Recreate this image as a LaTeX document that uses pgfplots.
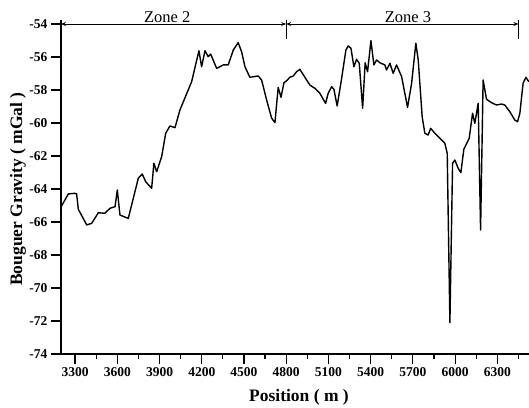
\documentclass[border=0pt]{standalone}
\usepackage{fontspec}
\setmainfont{Liberation Serif}
\usepackage{pgfplots}
\pgfplotsset{compat=1.18}
\usetikzlibrary{arrows.meta}

\pgfplotstableread{
x y
3200 -65.09
3252 -64.30
3299 -64.26
3311 -64.30
3323 -65.23
3383 -66.18
3418 -66.08
3465 -65.44
3512 -65.47
3548 -65.17
3584 -65.07
3600 -64.06
3619 -65.58
3678 -65.78
3749 -63.35
3777 -63.09
3802 -63.56
3844 -63.96
3860 -62.44
3880 -62.95
3915 -62.04
3944 -60.62
3974 -60.18
4010 -60.28
4045 -59.21
4128 -57.50
4180 -55.62
4199 -56.59
4223 -55.62
4246 -55.98
4263 -55.82
4306 -56.69
4353 -56.48
4388 -56.48
4424 -55.58
4459 -55.13
4483 -55.68
4507 -56.59
4542 -57.23
4601 -57.15
4625 -57.39
4661 -58.61
4696 -59.70
4720 -59.98
4743 -57.84
4763 -58.44
4784 -57.56
4803 -57.44
4826 -57.23
4850 -57.15
4874 -56.89
4897 -56.75
4933 -57.23
4968 -57.70
5004 -57.90
5039 -58.20
5080 -58.81
5098 -58.20
5123 -57.80
5139 -57.96
5162 -58.97
5194 -57.29
5224 -55.58
5240 -55.33
5260 -55.47
5281 -56.59
5300 -56.14
5319 -56.38
5343 -59.11
5361 -56.35
5378 -56.89
5402 -55.01
5423 -56.48
5442 -56.18
5466 -56.35
5501 -56.48
5513 -56.79
5537 -56.38
5560 -56.99
5584 -56.48
5620 -57.19
5662 -59.05
5691 -57.59
5721 -55.17
5738 -56.18
5766 -59.62
5785 -60.62
5809 -60.73
5826 -60.32
5856 -60.62
5892 -60.93
5927 -61.23
5944 -61.84
5963 -72.10
5982 -62.44
5998 -62.24
6022 -62.75
6041 -63.01
6062 -61.59
6100 -60.93
6124 -59.41
6140 -60.02
6164 -58.81
6181 -66.48
6199 -57.39
6223 -58.56
6259 -58.77
6294 -58.91
6330 -58.85
6353 -58.91
6389 -59.32
6424 -59.82
6444 -59.92
6460 -59.41
6483 -57.59
6503 -57.23
6524 -57.50
}\gravity

\begin{document}
\begin{tikzpicture}
\begin{axis}[
  at={(0,0)}, anchor=south west,
  scale only axis, width=468bp, height=330bp,
  xmin=3200, xmax=6525, ymin=-74, ymax=-54,
  clip=false,
  axis x line*=bottom, axis y line*=left,
  axis line style={line width=1.3bp},
  tick align=outside,
  major tick length=10bp, minor tick length=5bp,
  every tick/.style={line width=1.2bp, black},
  xtick={3300,3600,...,6300},
  xticklabels={3300,3600,3900,4200,4500,4800,5100,5400,5700,6000,6300},
  minor xtick={3450,3750,...,6450},
  ytick={-74,-72,...,-54},
  yticklabels={-74,-72,-70,-68,-66,-64,-62,-60,-58,-56,-54},
  ticklabel style={font=\fontsize{13.5bp}{16bp}\selectfont\bfseries},
  xlabel={Position ( m )},
  ylabel={Bouguer Gravity ( mGal )},
  label style={font=\fontsize{17.5bp}{20bp}\selectfont\bfseries},
  xlabel style={at={(axis description cs:0.5085,-0.1303)}, anchor=center},
  ylabel style={at={(axis description cs:-0.0919,0.5)}, anchor=center},
]
\addplot[black, line width=1.4bp, line join=round] table[x=x, y=y] {\gravity};

% zone markers along the top
\draw[line width=0.8bp, {Stealth[length=5bp,width=4bp]}-{Stealth[length=5bp,width=4bp]}]
  (axis cs:3200,-54) -- (axis cs:4800,-54);
\draw[line width=0.8bp, {Stealth[length=5bp,width=4bp]}-{Stealth[length=5bp,width=4bp]}]
  (axis cs:4800,-54) -- (axis cs:6450,-54);
\draw[line width=1.8bp] (axis cs:3200,-53.78) -- (axis cs:3200,-54.93);
\draw[line width=0.9bp] (axis cs:4800,-53.78) -- (axis cs:4800,-54.93);
\draw[line width=0.9bp] (axis cs:6450,-53.78) -- (axis cs:6450,-54.93);
\node[anchor=base, font=\fontsize{16.5bp}{19bp}\selectfont] at (axis cs:3955,-53.92) {Zone 2};
\node[anchor=base, font=\fontsize{16.5bp}{19bp}\selectfont] at (axis cs:5665,-53.92) {Zone 3};
\end{axis}
\pgfresetboundingbox
\path (-61bp,-54bp) rectangle (468bp,354bp);
\end{tikzpicture}
\end{document}
